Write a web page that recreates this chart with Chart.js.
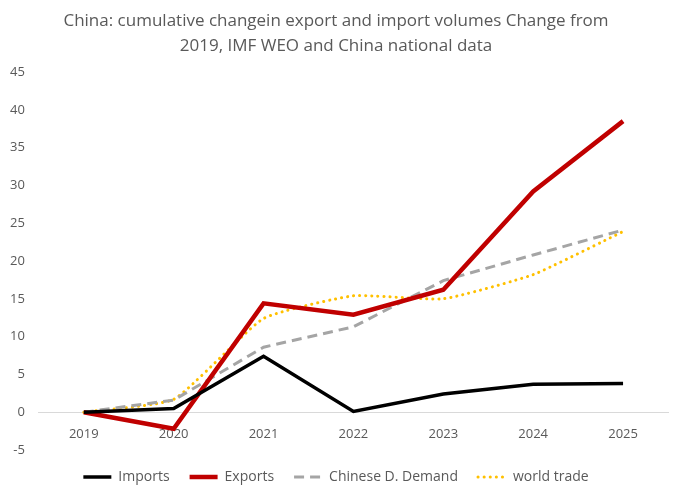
<!DOCTYPE html>
<html>
<head>
<meta charset="utf-8">
<script src="https://cdn.jsdelivr.net/npm/chart.js@4.4.1/dist/chart.umd.min.js"></script>
<style>
  html, body { margin: 0; padding: 0; background: #fff; }
  #wrap { width: 680px; height: 494px; }
</style>
</head>
<body>
<div id="wrap"><canvas id="canvas"></canvas></div>
<script>
const years = ['2019', '2020', '2021', '2022', '2023', '2024', '2025'];
const imports = [0, 0.5, 7.4, 0.1, 2.4, 3.7, 3.8];
const exports = [0, -2.2, 14.4, 12.9, 16.2, 29.2, 38.5];
const chineseDemand = [0, 1.6, 8.6, 11.3, 17.4, 20.8, 24.1];
const worldTrade = [0, 1.7, 12.4, 15.4, 15.0, 18.2, 23.9];
const titleLines = [
    'China: cumulative changein export and import volumes Change from',
    '2019, IMF WEO and China national data'
];

const textColor = '#595959';
const fontFamily = "'Open Sans', 'Noto Sans', sans-serif";

const ctx = document.getElementById('canvas').getContext('2d');

const data = {
    labels: years,
    datasets: [{
        label: 'Imports',
        data: imports,
        borderColor: '#000000',
        backgroundColor: '#000000',
        borderWidth: 3.5,
        tension: 0
    }, {
        label: 'Exports',
        data: exports,
        borderColor: '#C00000',
        backgroundColor: '#C00000',
        borderWidth: 4.5,
        tension: 0
    }, {
        label: 'Chinese D. Demand',
        data: chineseDemand,
        borderColor: '#A5A5A5',
        backgroundColor: '#A5A5A5',
        borderWidth: 3,
        borderDash: [10, 6],
        tension: 0
    }, {
        label: 'world trade',
        data: worldTrade,
        borderColor: '#FFC000',
        backgroundColor: '#FFC000',
        borderWidth: 3,
        borderDash: [0.1, 6],
        borderCapStyle: 'round',
        tension: 0.15
    }]
};

// legend lines take dash, cap and width straight from the datasets
const legendLabels = (chart) => chart.data.datasets.map((ds, i) => ({
    text: ds.label,
    datasetIndex: i,
    fillStyle: ds.borderColor,
    strokeStyle: ds.borderColor,
    lineWidth: ds.borderWidth,
    lineDash: ds.borderDash || [],
    lineCap: ds.borderCapStyle || 'butt',
    pointStyle: 'line',
    fontColor: textColor,
    hidden: false
}));

new Chart(ctx, {
    type: 'line',
    data,
    options: {
        responsive: true,
        maintainAspectRatio: false,
        animation: false,
        layout: { padding: { left: 4, right: 12, top: 6, bottom: 0 } },
        elements: { point: { radius: 0, hoverRadius: 0, pointStyle: 'line' } },
        plugins: {
            title: {
                display: true,
                text: titleLines,
                color: textColor,
                font: { family: fontFamily, size: 17, weight: 'normal', lineHeight: 1.5 },
                padding: { top: 2, bottom: 13 }
            },
            legend: {
                position: 'bottom',
                labels: {
                    usePointStyle: true,
                    pointStyle: 'line',
                    pointStyleWidth: 28,
                    color: textColor,
                    font: { family: fontFamily, size: 14 },
                    padding: 20,
                    generateLabels: legendLabels
                }
            },
            tooltip: { enabled: false }
        },
        scales: {
            x: {
                position: { y: 0 },
                offset: true,
                grid: { display: false },
                border: { display: true, color: '#D9D9D9', width: 1 },
                ticks: { color: textColor, font: { family: fontFamily, size: 13 }, padding: 6 }
            },
            y: {
                min: -5,
                max: 45,
                ticks: { stepSize: 5, color: textColor, font: { family: fontFamily, size: 13 }, padding: 6 },
                grid: { display: false },
                border: { display: false }
            }
        }
    }
});
</script>
</body>
</html>
